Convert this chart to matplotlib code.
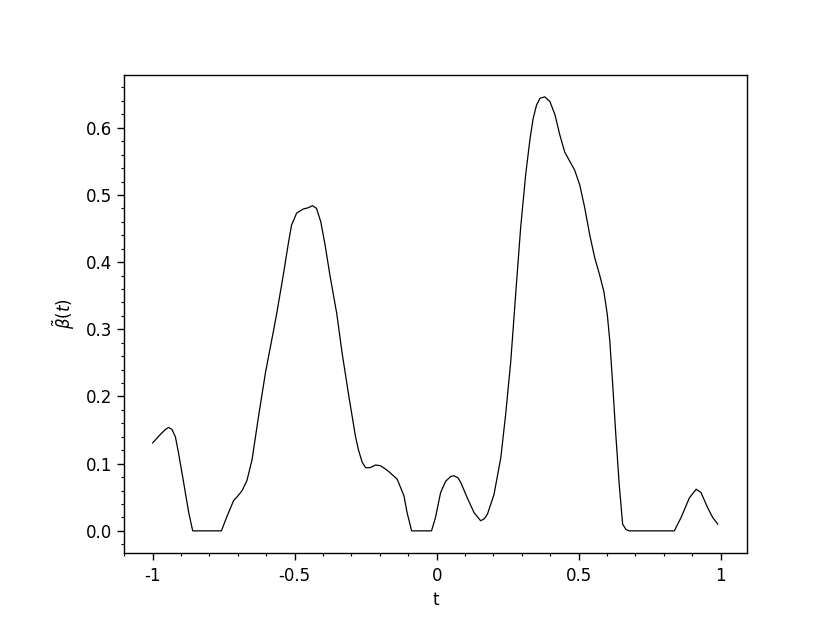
import numpy as np
import matplotlib
matplotlib.use("Agg")
import matplotlib.pyplot as plt
from matplotlib.ticker import MultipleLocator, FixedLocator, FixedFormatter

# values
t = [-1.000, -0.974, -0.955, -0.944, -0.932, -0.920, -0.909, -0.891, -0.873, -0.859,
     -0.758, -0.738, -0.715, -0.700, -0.685, -0.668, -0.650, -0.627, -0.603, -0.574,
     -0.563, -0.540, -0.523, -0.511, -0.493, -0.470, -0.452, -0.437, -0.423, -0.408,
     -0.393, -0.376, -0.352, -0.333, -0.309, -0.286, -0.275, -0.262, -0.250, -0.235,
     -0.215, -0.198, -0.180, -0.168, -0.139, -0.115, -0.104, -0.088, -0.018, -0.004,
     0.014, 0.032, 0.050, 0.061, 0.075, 0.085, 0.108, 0.132, 0.155, 0.168,
     0.179, 0.202, 0.226, 0.243, 0.261, 0.279, 0.296, 0.314, 0.329, 0.340,
     0.352, 0.364, 0.381, 0.399, 0.417, 0.434, 0.451, 0.469, 0.486, 0.504,
     0.522, 0.539, 0.557, 0.574, 0.589, 0.601, 0.610, 0.620, 0.631, 0.643,
     0.655, 0.667, 0.678, 0.837, 0.861, 0.890, 0.914, 0.931, 0.955, 0.972,
     0.990]
beta = [0.131, 0.143, 0.151, 0.154, 0.151, 0.140, 0.116, 0.072, 0.027, 0.000,
        0.000, 0.022, 0.045, 0.052, 0.060, 0.075, 0.106, 0.171, 0.235, 0.299,
        0.324, 0.381, 0.426, 0.455, 0.473, 0.479, 0.481, 0.484, 0.480, 0.460,
        0.426, 0.381, 0.324, 0.265, 0.200, 0.141, 0.120, 0.102, 0.094, 0.094,
        0.098, 0.097, 0.092, 0.088, 0.077, 0.052, 0.027, 0.000, 0.000, 0.020,
        0.057, 0.074, 0.081, 0.082, 0.079, 0.072, 0.049, 0.027, 0.015, 0.018,
        0.025, 0.054, 0.109, 0.173, 0.252, 0.356, 0.452, 0.532, 0.584, 0.614,
        0.634, 0.644, 0.646, 0.639, 0.619, 0.589, 0.564, 0.550, 0.537, 0.515,
        0.480, 0.441, 0.406, 0.381, 0.356, 0.322, 0.282, 0.218, 0.143, 0.069,
        0.010, 0.002, 0.000, 0.000, 0.020, 0.049, 0.062, 0.057, 0.034, 0.020,
        0.010]

xticks = [-1, -0.5, 0, 0.5, 1]
xtick_labels = ["-1", "-0.5", "0", "0.5", "1"]
yticks = [0.0, 0.1, 0.2, 0.3, 0.4, 0.5, 0.6]
ytick_labels = ["0.0", "0.1", "0.2", "0.3", "0.4", "0.5", "0.6"]

fig = plt.figure(figsize=(8.3, 6.23), dpi=100)
ax = fig.add_axes([124 / 830, 1 - 553.3 / 623, 623 / 830, 478.6 / 623])

ax.plot(t, beta, color="black", lw=0.9)

ax.set_xlim(-1.101, 1.093)
ax.set_ylim(-0.0334, 0.679)

ax.xaxis.set_major_locator(FixedLocator(xticks))
ax.xaxis.set_major_formatter(FixedFormatter(xtick_labels))
ax.yaxis.set_major_locator(FixedLocator(yticks))
ax.yaxis.set_major_formatter(FixedFormatter(ytick_labels))
ax.xaxis.set_minor_locator(MultipleLocator(0.1))
ax.yaxis.set_minor_locator(MultipleLocator(0.02))

ax.tick_params(which="both", direction="out", top=False, right=False, labelsize=12)
ax.tick_params(which="major", length=5, width=1)
ax.tick_params(which="minor", length=2.4, width=0.8)
ax.tick_params(axis="x", which="major", pad=5)
for s in ax.spines.values():
    s.set_linewidth(1.0)

ax.set_xlabel("t", fontsize=12)
ax.set_ylabel(r"$\tilde{\beta}(t)$", fontsize=12, labelpad=6)

fig.savefig("out.png", dpi=100)
